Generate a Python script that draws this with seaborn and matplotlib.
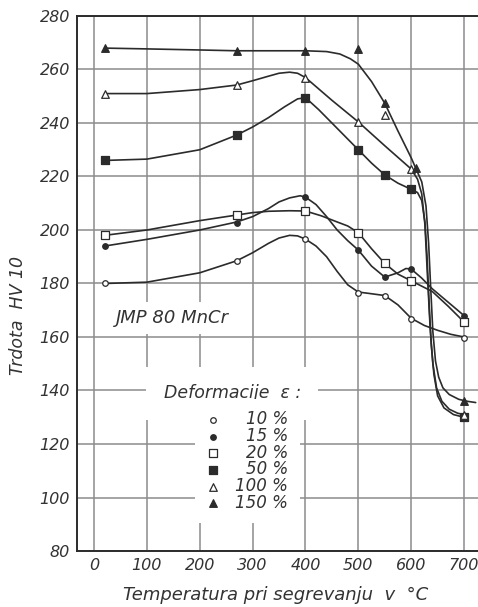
import matplotlib
matplotlib.use("Agg")
import matplotlib.pyplot as plt
import pandas as pd
import seaborn as sns

# ---------------- data ----------------
x_ticks = [0, 100, 200, 300, 400, 500, 600, 700]
y_ticks = [80, 100, 120, 140, 160, 180, 200, 220, 240, 260, 280]
series_labels = ["10 %", "15 %", "20 %", "50 %", "100 %", "150 %"]

# measured points (markers)
pts_x_10 = [20, 270, 400, 500, 550, 600, 700]
pts_y_10 = [180, 188.5, 196.6, 176.5, 175.5, 166.7, 159.6]
pts_x_15 = [20, 270, 400, 500, 550, 600, 700]
pts_y_15 = [194, 202.6, 212.3, 192.5, 182.4, 185.4, 168]
pts_x_20 = [20, 270, 400, 500, 550, 600, 700]
pts_y_20 = [198, 205.6, 207.1, 199, 187.5, 181, 165.6]
pts_x_50 = [20, 270, 400, 500, 550, 600, 700]
pts_y_50 = [226, 235.5, 249.5, 230, 220.6, 215.2, 130]
pts_x_100 = [20, 270, 400, 500, 550, 600, 700]
pts_y_100 = [251, 254.2, 257, 240.4, 243, 222.8, 131]
pts_x_150 = [20, 270, 400, 500, 550, 610, 700]
pts_y_150 = [268, 267, 267, 267.5, 247.4, 223, 136]

# drawn curves
crv_x_10 = [20, 100, 200, 270, 300, 330, 350, 370, 385, 400, 420, 440, 460, 480, 500, 520, 550, 575, 600, 625, 650, 675, 700]
crv_y_10 = [180, 180.5, 184, 188.5, 191.5, 195, 197, 198, 197.8, 196.6, 194, 190, 184.5, 179.5, 176.8, 176.3, 175.5, 172, 167, 164.3, 162.5, 161, 160]
crv_x_15 = [20, 100, 200, 270, 300, 330, 350, 370, 390, 400, 420, 440, 460, 480, 500, 525, 550, 575, 590, 600, 620, 640, 670, 700]
crv_y_15 = [194, 196.5, 200, 203, 205, 208, 210.5, 212, 212.8, 212.3, 209.5, 205, 200, 196, 192.5, 186.5, 182.4, 184, 185.6, 185.4, 182, 178, 173, 168]
crv_x_20 = [20, 100, 200, 270, 300, 330, 370, 400, 430, 460, 480, 500, 525, 550, 575, 600, 640, 670, 700]
crv_y_20 = [198, 200, 203.5, 205.6, 206.5, 207, 207.2, 207.1, 205.3, 203, 201.5, 199, 193, 187.5, 183.5, 181, 177, 171.5, 165.6]
crv_x_50 = [20, 100, 200, 270, 300, 330, 360, 385, 400, 425, 450, 475, 500, 525, 550, 575, 600, 612, 620, 626, 630, 634, 638, 643, 650, 662, 680, 700]
crv_y_50 = [226, 226.5, 230, 235.5, 238.5, 242, 246, 249, 249.5, 245, 240, 235, 230, 225, 220.6, 217.5, 215.2, 214, 211, 203, 190, 172, 157, 146, 138, 133.5, 131, 130]
crv_x_100 = [20, 100, 200, 270, 300, 330, 350, 370, 385, 400, 450, 500, 550, 600, 612, 620, 626, 631, 636, 641, 648, 658, 672, 688, 700]
crv_y_100 = [251, 251, 252.5, 254.2, 255.8, 257.5, 258.6, 259, 258.6, 257, 248.5, 240.4, 231.5, 222.8, 219, 213.5, 202, 182, 163, 150, 141, 136, 133, 131.5, 131]
crv_x_150 = [20, 100, 200, 270, 350, 400, 440, 465, 485, 500, 525, 550, 575, 600, 610, 620, 628, 633, 637, 641, 646, 652, 660, 672, 690, 705, 722]
crv_y_150 = [268, 267.7, 267.3, 267, 267, 267, 266.7, 265.8, 264, 262, 255.5, 247.4, 237, 227, 222.5, 218, 209, 195, 178, 162, 151, 145, 141, 138.5, 136.7, 136, 135.5]

pts = {
    "10 %": (pts_x_10, pts_y_10), "15 %": (pts_x_15, pts_y_15),
    "20 %": (pts_x_20, pts_y_20), "50 %": (pts_x_50, pts_y_50),
    "100 %": (pts_x_100, pts_y_100), "150 %": (pts_x_150, pts_y_150),
}
crv = {
    "10 %": (crv_x_10, crv_y_10), "15 %": (crv_x_15, crv_y_15),
    "20 %": (crv_x_20, crv_y_20), "50 %": (crv_x_50, crv_y_50),
    "100 %": (crv_x_100, crv_y_100), "150 %": (crv_x_150, crv_y_150),
}

# ---------------- style ----------------
sns.set_style("white")
plt.rcParams["font.family"] = ["DejaVu Sans"]
plt.rcParams["font.style"] = "italic"
ink = "#2b2b2b"
txt_c = "#333333"
grid_c = "#8c8c8c"

marker_style = {
    "10 %": dict(marker="o", s=16, filled=False),
    "15 %": dict(marker="o", s=16, filled=True),
    "20 %": dict(marker="s", s=30, filled=False),
    "50 %": dict(marker="s", s=30, filled=True),
    "100 %": dict(marker="^", s=30, filled=False),
    "150 %": dict(marker="^", s=30, filled=True),
}

fig = plt.figure(figsize=(4.78, 6.07), dpi=100)
ax = fig.add_axes([77 / 478, 1 - 551 / 607, 401 / 478, 535 / 607])

for lab in series_labels:
    cx, cy = crv[lab]
    dfc = pd.DataFrame({"T": cx, "HV": cy})
    sns.lineplot(data=dfc, x="T", y="HV", sort=False, estimator=None,
                 color=ink, lw=1.2, ax=ax, legend=False, zorder=3)

for lab in series_labels:
    px, py = pts[lab]
    st = marker_style[lab]
    dfp = pd.DataFrame({"T": px, "HV": py})
    sns.scatterplot(data=dfp, x="T", y="HV", marker=st["marker"], s=st["s"],
                    color=ink if st["filled"] else "white", edgecolor=ink,
                    linewidth=0.9, ax=ax, label=lab, zorder=5)

ax.set_xlim(-32.2, 726.4)
ax.set_ylim(80, 280)
ax.set_xticks(x_ticks)
ax.set_yticks(y_ticks)
ax.grid(True, color=grid_c, lw=1.1)
ax.set_axisbelow(True)
ax.tick_params(length=0, labelsize=11.5, labelcolor=txt_c, pad=5)
for sp in ["left", "bottom", "top"]:
    ax.spines[sp].set_color(ink)
    ax.spines[sp].set_linewidth(1.4)
ax.spines["right"].set_visible(False)

ax.set_xlabel("Temperatura pri segrevanju  v  °C", fontsize=13, color=txt_c)
ax.set_ylabel("Trdota  HV 10", fontsize=12.5, color=txt_c)
ax.xaxis.set_label_coords(0.496, -0.082)
ax.xaxis.label.set_va("center")
ax.yaxis.set_label_coords(-0.147, 0.441)
ax.yaxis.label.set_va("center")

ax.text(148, 167, "JMP 80 MnCr", fontsize=13, color=txt_c, ha="center",
        va="center", zorder=4,
        bbox=dict(boxstyle="square,pad=0.4", fc="white", ec="none"))
ax.text(0.387, 0.295, "Deformacije  \u03b5 :", transform=ax.transAxes, fontsize=12.5,
        color=txt_c, ha="center", va="center", zorder=4,
        bbox=dict(boxstyle="square,pad=1.0", fc="white", ec="none"))

handles, labels = ax.get_legend_handles_labels()
leg = ax.legend(handles, labels, loc="center", bbox_to_anchor=(0.425, 0.168),
                frameon=True, facecolor="white", edgecolor="none", framealpha=1,
                fancybox=False, fontsize=12, handletextpad=0.9, labelspacing=-0.08,
                borderpad=0.7, handlelength=0.8, borderaxespad=0)
leg.set_zorder(6)
fig.canvas.draw()
renderer = fig.canvas.get_renderer()
widths = [t.get_window_extent(renderer).width for t in leg.get_texts()]
w = max(widths)
for t, wi in zip(leg.get_texts(), widths):
    t.set_color(txt_c)
    t.set_position((w - wi, 0))

fig.savefig("out.png", dpi=100, facecolor="white")
